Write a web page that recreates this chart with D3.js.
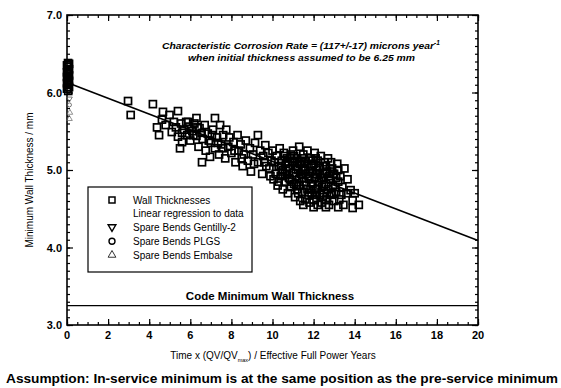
<!DOCTYPE html>
<html lang="en">
<head>
    <meta charset="UTF-8">
    <title>Minimum Wall Thickness vs Time</title>
    <script src="https://cdnjs.cloudflare.com/ajax/libs/d3/7.8.5/d3.min.js"></script>
    <style>
        body { margin: 0; background: #fff; }
        svg { font-family: "Liberation Sans", Arial, sans-serif; }
        .tick-label { font-size: 11px; font-weight: bold; }
        .axis-title { font-size: 10px; }
        .legend-text { font-size: 10px; }
        .note { font-size: 9px; font-weight: bold; font-style: italic; }
    </style>
</head>
<body>
    <div id="chart"></div>
    <script>
        // Wall thickness measurements [time EFPY, thickness mm]
        const wallThickness = [
            [0.0, 6.05], [0.05, 6.10], [0.1, 6.15], [0.0, 6.20], [0.05, 6.25], [0.1, 6.30],
            [0.0, 6.35], [0.05, 6.38], [0.1, 6.22], [0.0, 6.12], [0.08, 6.33], [0.02, 6.28],
            [0.1, 6.07], [0.04, 6.18], [0.06, 6.02], [0.1, 6.37], [0.0, 6.26], [0.07, 6.14],
            [2.97, 5.89], [3.1, 5.71],
            [4.18, 5.85], [4.38, 5.55], [4.48, 5.45], [4.62, 5.65], [4.67, 5.75], [4.8, 5.58],
            [4.99, 5.71], [5.1, 5.49], [5.2, 5.62], [5.3, 5.55], [5.4, 5.76], [5.4, 5.43],
            [5.5, 5.28], [5.55, 5.60], [5.6, 5.36], [5.7, 5.52], [5.8, 5.62], [5.85, 5.45],
            [5.95, 5.56], [6.0, 5.38], [6.1, 5.50], [6.2, 5.60], [6.3, 5.67], [6.3, 5.44],
            [6.4, 5.30], [6.45, 5.54], [6.57, 5.10], [6.6, 5.40], [6.7, 5.58], [6.75, 5.25],
            [6.85, 5.47], [6.96, 5.17], [7.0, 5.35], [7.1, 5.52], [7.2, 5.67], [7.2, 5.28],
            [7.3, 5.42], [7.4, 5.20], [7.45, 5.58], [7.5, 5.33], [7.6, 5.45], [7.7, 5.15],
            [7.75, 5.52], [7.85, 5.30], [7.9, 5.42], [8.0, 5.22], [8.1, 5.36], [8.2, 5.10],
            [8.3, 5.45], [8.35, 5.25], [8.45, 5.33], [8.55, 5.05], [8.6, 5.20], [8.7, 5.38],
            [8.8, 5.12], [8.9, 5.28], [8.95, 4.98], [9.05, 5.20], [9.15, 5.35], [9.29, 5.45],
            [9.3, 5.10], [9.4, 5.25], [9.5, 4.95], [9.55, 5.18], [9.65, 5.32], [9.7, 5.05],
            [9.8, 5.22], [9.9, 4.92], [9.95, 5.12],
            [5.6, 5.48], [5.9, 5.62], [6.15, 5.45], [6.35, 5.55], [6.55, 5.48], [6.9, 5.38],
            [7.05, 5.45], [7.35, 5.35], [7.6, 5.28], [8.15, 5.25], [8.5, 5.15], [9.1, 5.08],
            [9.6, 5.10], [9.85, 5.02],
            [10.0, 5.25], [10.05, 4.88], [10.1, 5.10], [10.15, 4.95], [10.2, 5.18], [10.25, 4.80],
            [10.3, 5.05], [10.35, 5.28], [10.4, 4.92], [10.45, 5.12], [10.5, 4.75], [10.5, 5.00],
            [10.55, 5.22], [10.6, 4.85], [10.65, 5.08], [10.7, 4.95], [10.7, 5.15], [10.75, 4.70],
            [10.8, 5.02], [10.85, 4.88], [10.9, 5.20], [10.9, 4.78], [10.95, 5.10], [11.0, 4.96],
            [11.0, 5.25], [11.05, 4.82], [11.1, 5.05], [11.1, 4.65], [11.15, 4.92], [11.2, 5.15],
            [11.2, 4.75], [11.25, 5.00], [11.3, 4.88], [11.3, 5.30], [11.35, 4.60], [11.4, 5.10],
            [11.4, 4.95], [11.45, 4.72], [11.5, 5.02], [11.5, 5.20], [11.55, 4.85], [11.6, 4.62],
            [11.6, 5.12], [11.65, 4.95], [11.7, 4.75], [11.7, 5.25], [11.75, 5.05], [11.8, 4.88],
            [11.8, 4.58], [11.85, 5.15], [11.9, 4.98], [11.9, 4.70], [11.95, 4.82], [12.0, 5.08],
            [12.0, 4.62], [12.05, 5.22], [12.05, 4.90], [12.1, 4.75], [12.15, 5.00], [12.2, 4.55],
            [12.2, 5.12], [12.25, 4.85], [12.3, 4.68], [12.3, 4.95], [12.35, 5.18], [12.4, 4.78],
            [12.4, 4.58], [12.45, 5.05], [12.5, 4.90], [12.5, 4.70], [12.55, 5.10], [12.6, 4.82],
            [12.6, 4.62], [12.65, 4.98], [12.7, 4.75], [12.7, 5.15], [12.75, 4.55], [12.8, 4.88],
            [12.85, 4.68], [12.9, 5.02], [12.95, 4.80], [13.0, 4.60], [13.0, 4.95], [13.1, 4.72],
            [13.15, 5.08], [13.2, 4.85], [13.25, 4.62], [13.3, 4.92], [13.4, 4.78], [13.45, 4.55],
            [13.5, 5.02], [13.6, 4.70], [13.65, 4.88], [13.8, 4.74], [13.9, 4.61], [13.9, 4.51],
            [14.0, 4.70], [14.2, 4.55],
            [10.4, 5.05], [10.8, 4.90], [11.0, 5.12], [11.3, 4.80], [11.6, 5.00], [11.9, 5.05],
            [12.1, 4.95], [12.3, 5.05], [12.5, 4.80], [12.8, 4.98], [12.9, 4.70], [11.45, 4.90],
            [11.75, 4.68], [12.15, 4.68], [10.6, 5.18], [13.1, 4.90], [12.6, 5.05], [11.2, 5.05],
            [10.3, 4.85], [10.45, 4.98], [10.6, 4.95], [10.75, 5.10], [10.85, 5.15], [10.95, 4.85],
            [11.05, 5.18], [11.15, 4.80], [11.25, 4.70], [11.35, 5.08], [11.45, 5.15], [11.55, 5.08],
            [11.65, 4.80], [11.75, 4.92], [11.85, 4.75], [11.95, 5.12], [12.05, 4.68], [12.1, 5.15],
            [12.2, 4.80], [12.25, 5.02], [12.35, 4.90], [12.45, 4.65], [12.55, 4.95], [12.65, 4.70],
            [12.75, 4.92], [12.85, 5.10], [12.95, 4.95], [13.05, 4.78], [13.2, 5.00], [13.35, 4.68],
            [11.5, 4.55], [12.0, 4.52], [12.6, 4.52], [13.2, 4.52]
        ];

        // Spare bends (unused, time = 0)
        const gentilly2 = [[0.12, 5.92]];
        const plgs = [[0.12, 5.84]];
        const embalse = [[0.14, 5.74], [0.12, 5.66]];

        // Linear regression to data (endpoints of the fitted line)
        const regressionX = [0, 20];
        const regressionY = [6.13, 4.09];

        const codeMinimum = 3.25;

        const xMajorTicks = [0, 2, 4, 6, 8, 10, 12, 14, 16, 18, 20];
        const yMajorTicks = [3.0, 4.0, 5.0, 6.0, 7.0];

        const legendLabels = ["Wall Thicknesses", "Linear regression to data",
            "Spare Bends Gentilly-2", "Spare Bends PLGS", "Spare Bends Embalse"];

        const W = 561, H = 388;
        const pLeft = 67, pRight = 478, pTop = 15, pBottom = 325;

        const svg = d3.select("#chart").append("svg")
            .attr("width", W).attr("height", H);

        const x = d3.scaleLinear().domain([0, 20]).range([pLeft, pRight]);
        const y = d3.scaleLinear().domain([3, 7]).range([pBottom, pTop]);

        // Minor tick values
        const xMinor = d3.range(0, 20.01, 0.5);
        const yMinor = d3.range(3, 7.001, 0.1);

        // Axes with inward ticks on all four sides
        function tickAxes() {
            svg.append("g").attr("transform", `translate(0,${pBottom})`)
                .call(d3.axisTop(x).tickValues(xMinor).tickSize(3).tickFormat(""));
            svg.append("g").attr("transform", `translate(0,${pBottom})`)
                .call(d3.axisTop(x).tickValues(xMajorTicks).tickSize(6).tickFormat(""));
            svg.append("g").attr("transform", `translate(0,${pTop})`)
                .call(d3.axisBottom(x).tickValues(xMinor).tickSize(3).tickFormat(""));
            svg.append("g").attr("transform", `translate(0,${pTop})`)
                .call(d3.axisBottom(x).tickValues(xMajorTicks).tickSize(6).tickFormat(""));
            svg.append("g").attr("transform", `translate(${pLeft},0)`)
                .call(d3.axisRight(y).tickValues(yMinor).tickSize(3).tickFormat(""));
            svg.append("g").attr("transform", `translate(${pLeft},0)`)
                .call(d3.axisRight(y).tickValues(yMajorTicks).tickSize(6).tickFormat(""));
            svg.append("g").attr("transform", `translate(${pRight},0)`)
                .call(d3.axisLeft(y).tickValues(yMinor).tickSize(3).tickFormat(""));
            svg.append("g").attr("transform", `translate(${pRight},0)`)
                .call(d3.axisLeft(y).tickValues(yMajorTicks).tickSize(6).tickFormat(""));
        }
        tickAxes();
        svg.selectAll(".domain").remove();
        svg.selectAll(".tick line").attr("stroke", "#000").attr("stroke-width", 1.2);

        // Frame
        svg.append("rect")
            .attr("x", pLeft).attr("y", pTop)
            .attr("width", pRight - pLeft).attr("height", pBottom - pTop)
            .attr("fill", "none").attr("stroke", "#000").attr("stroke-width", 1.6);

        // Tick labels
        svg.selectAll(".xlab").data(xMajorTicks).enter().append("text")
            .attr("class", "tick-label")
            .attr("x", d => x(d)).attr("y", pBottom + 14)
            .attr("text-anchor", "middle").text(d => d);
        svg.selectAll(".ylab").data(yMajorTicks).enter().append("text")
            .attr("class", "tick-label")
            .attr("x", pLeft - 5).attr("y", d => y(d) + 4)
            .attr("text-anchor", "end").text(d => d.toFixed(1));

        // Axis titles
        svg.append("text").attr("class", "axis-title")
            .attr("transform", `translate(33,${(pTop + pBottom) / 2 + 10}) rotate(-90)`)
            .attr("text-anchor", "middle")
            .text("Minimum Wall Thickness / mm");

        const xt = svg.append("text").attr("class", "axis-title")
            .attr("x", 273).attr("y", 359).attr("text-anchor", "middle");
        xt.append("tspan").text("Time x (QV/QV");
        xt.append("tspan").attr("font-size", "5.5px").attr("dy", 3).text("max");
        xt.append("tspan").attr("dy", -3).text(")  / Effective Full Power Years");

        svg.append("text")
            .attr("x", 282).attr("y", 383).attr("text-anchor", "middle")
            .attr("font-size", "12.5px").attr("font-weight", "bold")
            .attr("textLength", 552).attr("lengthAdjust", "spacingAndGlyphs")
            .text("Assumption: In-service minimum is at the same position as the pre-service minimum");

        // Annotation
        const n1 = svg.append("text").attr("class", "note")
            .attr("x", 162).attr("y", 49);
        n1.append("tspan").attr("textLength", 272).attr("lengthAdjust", "spacingAndGlyphs")
            .text("Characteristic Corrosion Rate = (117+/-17) microns year");
        n1.append("tspan").attr("font-size", "6.5px").attr("dy", -4).text("-1");
        svg.append("text").attr("class", "note")
            .attr("x", 188).attr("y", 61)
            .attr("textLength", 227).attr("lengthAdjust", "spacingAndGlyphs")
            .text("when initial thickness assumed to be 6.25 mm");

        // Code minimum line
        svg.append("line")
            .attr("x1", x(0)).attr("x2", x(20))
            .attr("y1", y(codeMinimum)).attr("y2", y(codeMinimum))
            .attr("stroke", "#000").attr("stroke-width", 1.2);
        svg.append("text")
            .attr("x", 270).attr("y", y(codeMinimum) - 6).attr("text-anchor", "middle")
            .attr("font-size", "11.5px").attr("font-weight", "bold")
            .text("Code Minimum Wall Thickness");

        // Regression line
        svg.append("line")
            .attr("x1", x(regressionX[0])).attr("y1", y(regressionY[0]))
            .attr("x2", x(regressionX[1])).attr("y2", y(regressionY[1]))
            .attr("stroke", "#000").attr("stroke-width", 1.6);

        // Markers
        const sq = 7;
        svg.append("g").selectAll("rect").data(wallThickness).enter().append("rect")
            .attr("x", d => x(d[0]) - sq / 2).attr("y", d => y(d[1]) - sq / 2)
            .attr("width", sq).attr("height", sq)
            .attr("fill", "none").attr("stroke", "#000").attr("stroke-width", 1.7);

        const tri = d3.symbol().type(d3.symbolTriangle).size(14);
        svg.append("g").selectAll("path").data(gentilly2).enter().append("path")
            .attr("d", tri)
            .attr("transform", d => `translate(${x(d[0])},${y(d[1])}) rotate(180)`)
            .attr("fill", "none").attr("stroke", "#555").attr("stroke-width", 0.8);
        svg.append("g").selectAll("circle").data(plgs).enter().append("circle")
            .attr("cx", d => x(d[0])).attr("cy", d => y(d[1])).attr("r", 2)
            .attr("fill", "none").attr("stroke", "#555").attr("stroke-width", 0.8);
        svg.append("g").selectAll("path").data(embalse).enter().append("path")
            .attr("d", tri)
            .attr("transform", d => `translate(${x(d[0])},${y(d[1])})`)
            .attr("fill", "none").attr("stroke", "#666").attr("stroke-width", 0.7);

        // Legend
        const lg = svg.append("g");
        lg.append("rect").attr("x", 88).attr("y", 187).attr("width", 164).attr("height", 85)
            .attr("fill", "#fff").attr("stroke", "#000").attr("stroke-width", 1.2);
        const rowY = d3.scalePoint().domain(legendLabels).range([200, 255]);
        lg.selectAll("text").data(legendLabels).enter().append("text")
            .attr("class", "legend-text")
            .attr("x", 133).attr("y", d => rowY(d) + 3.5).text(d => d);
        const symX = 112;
        lg.append("rect").attr("x", symX - 3).attr("y", rowY(legendLabels[0]) - 3)
            .attr("width", 6).attr("height", 6)
            .attr("fill", "none").attr("stroke", "#000").attr("stroke-width", 1.5);
        lg.append("path").attr("d", d3.symbol().type(d3.symbolTriangle).size(26))
            .attr("transform", `translate(${symX},${rowY(legendLabels[2]) - 0.5}) rotate(180)`)
            .attr("fill", "none").attr("stroke", "#000").attr("stroke-width", 1.4);
        lg.append("circle").attr("cx", symX).attr("cy", rowY(legendLabels[3]))
            .attr("r", 3).attr("fill", "none").attr("stroke", "#000").attr("stroke-width", 1.4);
        lg.append("path").attr("d", d3.symbol().type(d3.symbolTriangle).size(26))
            .attr("transform", `translate(${symX},${rowY(legendLabels[4])})`)
            .attr("fill", "none").attr("stroke", "#000").attr("stroke-width", 0.8);
    </script>
</body>
</html>
